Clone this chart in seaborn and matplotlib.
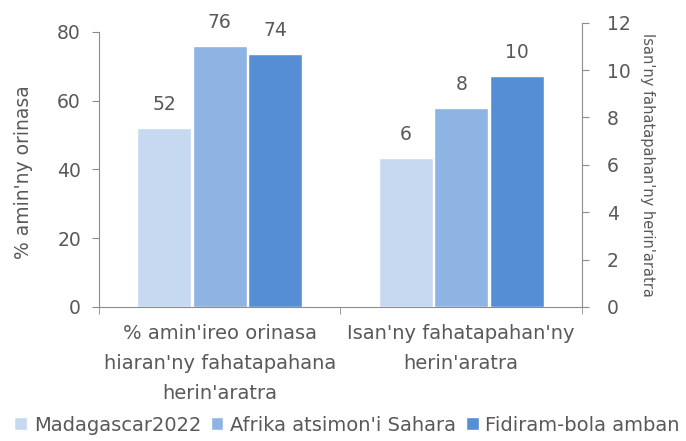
import pandas as pd
import matplotlib
matplotlib.use("Agg")
import matplotlib.pyplot as plt
import seaborn as sns
from matplotlib.patches import Patch

# data
categories = ["% amin'ireo orinasa\nhiaran'ny fahatapahana\nherin'aratra",
              "Isan'ny fahatapahan'ny\nherin'aratra"]
series = ["Madagascar2022", "Afrika atsimon'i Sahara", "Fidiram-bola amban"]
share_values = [52.1, 75.8, 73.6]     # left axis, %
outage_values = [6.3, 8.4, 9.75]      # right axis, count
colors = ["#C6D9F0", "#8EB4E3", "#558ED5"]

df_left = pd.DataFrame({"cat": categories[0], "series": series, "value": share_values})
df_right = pd.DataFrame({"cat": categories[1], "series": series, "value": outage_values})

sns.set_style("white")
plt.rcParams['font.family'] = ['DejaVu Sans']
grey = "#595959"
axis_grey = "#8C8C8C"

fig = plt.figure(figsize=(6.86, 4.41), dpi=100)
ax = fig.add_axes([0.1443, 0.3039, 0.7041, 0.6446])
ax2 = ax.twinx()

sns.barplot(data=df_left, x="cat", y="value", hue="series", order=categories,
            hue_order=series, palette=colors, saturation=1, width=0.69, gap=0.035,
            legend=False, ax=ax)
sns.barplot(data=df_right, x="cat", y="value", hue="series", order=categories,
            hue_order=series, palette=colors, saturation=1, width=0.69, gap=0.035,
            legend=False, ax=ax2)

ax.set_xlim(-0.5, 1.5)
ax.set_ylim(0, 82.7)
ax.set_yticks(range(0, 81, 20))
ax2.set_ylim(0, 12)
ax2.set_yticks(range(0, 13, 2))

# value labels above the bars
for a in (ax, ax2):
    for p in a.patches:
        h = p.get_height()
        if h > 0:
            a.annotate(f"{h:.0f}", (p.get_x() + p.get_width() / 2, h),
                       xytext=(0, 13), textcoords="offset points",
                       ha="center", va="baseline", fontsize=13.5, color=grey)

# spines
for a in (ax, ax2):
    for s in a.spines.values():
        s.set_visible(False)
    a.grid(False)
ax.spines["left"].set_visible(True)
ax.spines["left"].set_color(axis_grey)
ax.spines["left"].set_bounds(0, 80)
ax.spines["bottom"].set_visible(True)
ax.spines["bottom"].set_color(axis_grey)
ax2.spines["right"].set_visible(True)
ax2.spines["right"].set_color(axis_grey)

ax.tick_params(axis="y", left=True, length=5, color=axis_grey, labelcolor=grey,
               labelsize=13.5, pad=8)
ax2.tick_params(axis="y", right=True, length=5, color=axis_grey, labelcolor=grey,
                labelsize=13.5, pad=13)

# category labels centred, ticks at the boundaries
ax.set_xticks([0, 1])
ax.set_xticklabels(categories, fontsize=14, color=grey, linespacing=1.75)
ax.set_xticks([-0.5, 0.5, 1.5], minor=True)
ax.tick_params(axis="x", which="major", length=0, pad=12)
ax.tick_params(axis="x", which="minor", bottom=True, length=5, color=axis_grey)

ax.set_xlabel("")
ax.set_ylabel("% amin'ny orinasa", fontsize=13.5, color=grey)
ax.yaxis.set_label_coords(-0.137, 0.475)
ax2.set_ylabel("Isan'ny fahatapahan'ny herin'aratra", fontsize=10.5, color=grey,
               rotation=270, va="bottom", labelpad=7)

handles = [Patch(facecolor=c, label=s) for c, s in zip(colors, series)]
fig.legend(handles=handles, loc="center", bbox_to_anchor=(0.506, 0.036), ncol=3,
           frameon=False, fontsize=14, labelcolor=grey, handlelength=0.65,
           handleheight=0.65, handletextpad=0.35, columnspacing=0.5, borderpad=0)

fig.savefig("out.png", dpi=100)
